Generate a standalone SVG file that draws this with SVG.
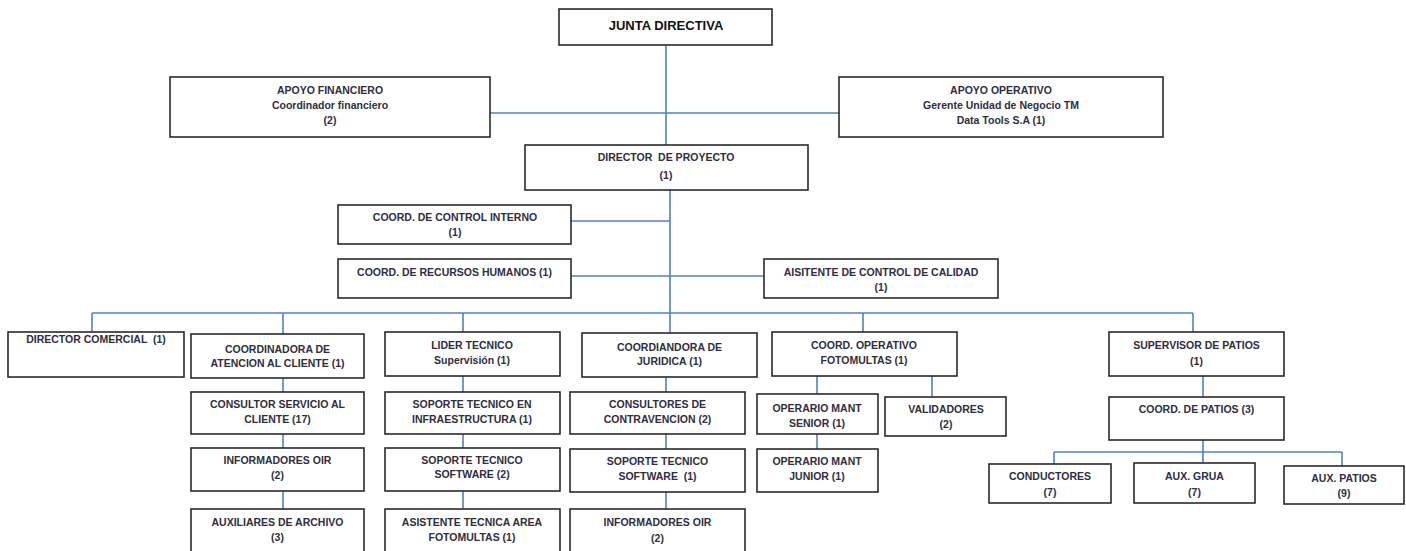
<svg xmlns="http://www.w3.org/2000/svg" width="1406" height="551" viewBox="0 0 1406 551">
<style>
.b{fill:#fff;stroke:#2a2a2a;stroke-width:1.6}
.t{font-family:"Liberation Sans",Arial,sans-serif;font-size:10.5px;font-weight:bold;fill:#2e2e3e;text-anchor:middle;white-space:pre}
.big{font-size:13px;fill:#111}
.c{fill:none;stroke:#4f81c7;stroke-width:1.6}
</style>
<rect width="1406" height="551" fill="#fff"/>
<g id="connectors">
<path class="c" d="M666,45V145M490,113H839M670,190V333M571,221H670M571,276H764M92,313H1193M92,313V332M283,313V334M463,313V332M863,313V332M1193,313V332M283,378V392M283,434V448M283,491V509M463,376V392M463,434V448M463,491V509M666,377V392M666,434V449M666,492V509M817,376V394M817,434V449M932,376V397M1203,376V397M1203,440V463M1054,452H1342M1054,452V464M1342,452V466"/>
</g>
<g id="junta"><rect class="b" x="559" y="9" width="213" height="36"/><text class="t big" x="666" y="29.5">JUNTA DIRECTIVA</text></g>
<g id="apoyo-fin"><rect class="b" x="170" y="77" width="320" height="60"/><text class="t" x="330" y="93.5">APOYO FINANCIERO</text><text class="t" x="330" y="108.8">Coordinador financiero</text><text class="t" x="330" y="124">(2)</text></g>
<g id="apoyo-op"><rect class="b" x="839" y="77" width="324" height="60"/><text class="t" x="1001" y="93.5">APOYO OPERATIVO</text><text class="t" x="1001" y="108.8">Gerente Unidad de Negocio TM</text><text class="t" x="1001" y="124">Data Tools S.A (1)</text></g>
<g id="director"><rect class="b" x="525" y="145" width="283" height="45"/><text class="t" x="666" y="161" xml:space="preserve">DIRECTOR  DE PROYECTO</text><text class="t" x="666" y="179">(1)</text></g>
<g id="control"><rect class="b" x="338" y="205" width="233" height="39"/><text class="t" x="455" y="221">COORD. DE CONTROL INTERNO</text><text class="t" x="455" y="236">(1)</text></g>
<g id="rrhh"><rect class="b" x="338" y="259" width="233" height="39"/><text class="t" x="454.5" y="275.5">COORD. DE RECURSOS HUMANOS (1)</text></g>
<g id="calidad"><rect class="b" x="764" y="259" width="234" height="39"/><text class="t" x="881" y="275.5">AISITENTE DE CONTROL DE CALIDAD</text><text class="t" x="881" y="290.5">(1)</text></g>
<g id="comercial"><rect class="b" x="8" y="332" width="176" height="45"/><text class="t" x="96" y="343" xml:space="preserve">DIRECTOR COMERCIAL  (1)</text></g>
<g id="atencion"><rect class="b" x="191" y="334" width="173" height="44"/><text class="t" x="277.5" y="352.5">COORDINADORA DE</text><text class="t" x="277.5" y="367">ATENCION AL CLIENTE (1)</text></g>
<g id="lider"><rect class="b" x="385" y="332" width="175" height="44"/><text class="t" x="472" y="349">LIDER TECNICO</text><text class="t" x="472" y="364">Supervisión (1)</text></g>
<g id="juridica"><rect class="b" x="582" y="333" width="175" height="44"/><text class="t" x="669.5" y="350.5">COORDIANDORA DE</text><text class="t" x="669.5" y="365">JURIDICA (1)</text></g>
<g id="operativo"><rect class="b" x="772" y="332" width="185" height="44"/><text class="t" x="864" y="349">COORD. OPERATIVO</text><text class="t" x="864" y="364">FOTOMULTAS (1)</text></g>
<g id="supervisor"><rect class="b" x="1109" y="332" width="175" height="44"/><text class="t" x="1196.5" y="349">SUPERVISOR DE PATIOS</text><text class="t" x="1196.5" y="364.5">(1)</text></g>
<g id="consultor"><rect class="b" x="191" y="392" width="173" height="42"/><text class="t" x="277.5" y="408">CONSULTOR SERVICIO AL</text><text class="t" x="277.5" y="423">CLIENTE (17)</text></g>
<g id="informadores1"><rect class="b" x="191" y="448" width="173" height="43"/><text class="t" x="277.5" y="464">INFORMADORES OIR</text><text class="t" x="277.5" y="479">(2)</text></g>
<g id="auxiliares"><rect class="b" x="191" y="509" width="173" height="52"/><text class="t" x="277.5" y="526">AUXILIARES DE ARCHIVO</text><text class="t" x="277.5" y="541">(3)</text></g>
<g id="soporte-infra"><rect class="b" x="385" y="392" width="175" height="42"/><text class="t" x="472" y="408">SOPORTE TECNICO EN</text><text class="t" x="472" y="423">INFRAESTRUCTURA (1)</text></g>
<g id="soporte-sw2"><rect class="b" x="385" y="448" width="175" height="43"/><text class="t" x="472" y="464">SOPORTE TECNICO</text><text class="t" x="472" y="478">SOFTWARE (2)</text></g>
<g id="asistente"><rect class="b" x="385" y="509" width="175" height="52"/><text class="t" x="472" y="526">ASISTENTE TECNICA AREA</text><text class="t" x="472" y="541">FOTOMULTAS (1)</text></g>
<g id="contravencion"><rect class="b" x="570" y="392" width="175" height="42"/><text class="t" x="657.5" y="408">CONSULTORES DE</text><text class="t" x="657.5" y="423">CONTRAVENCION (2)</text></g>
<g id="soporte-sw1"><rect class="b" x="570" y="449" width="175" height="43"/><text class="t" x="657.5" y="465">SOPORTE TECNICO</text><text class="t" x="657.5" y="480" xml:space="preserve">SOFTWARE  (1)</text></g>
<g id="informadores2"><rect class="b" x="570" y="509" width="175" height="52"/><text class="t" x="657.5" y="526">INFORMADORES OIR</text><text class="t" x="657.5" y="541.5">(2)</text></g>
<g id="op-senior"><rect class="b" x="757" y="394" width="121" height="40"/><text class="t" x="817" y="411.5">OPERARIO MANT</text><text class="t" x="817" y="427">SENIOR (1)</text></g>
<g id="op-junior"><rect class="b" x="757" y="449" width="121" height="43"/><text class="t" x="817" y="465">OPERARIO MANT</text><text class="t" x="817" y="480">JUNIOR (1)</text></g>
<g id="validadores"><rect class="b" x="885" y="397" width="121" height="39"/><text class="t" x="946" y="413">VALIDADORES</text><text class="t" x="946" y="428">(2)</text></g>
<g id="coord-patios"><rect class="b" x="1109" y="397" width="175" height="43"/><text class="t" x="1196.5" y="413">COORD. DE PATIOS (3)</text></g>
<g id="conductores"><rect class="b" x="989" y="464" width="122" height="39"/><text class="t" x="1050" y="480">CONDUCTORES</text><text class="t" x="1050" y="495.5">(7)</text></g>
<g id="aux-grua"><rect class="b" x="1134" y="463" width="121" height="40"/><text class="t" x="1194.5" y="480">AUX. GRUA</text><text class="t" x="1194.5" y="495.5">(7)</text></g>
<g id="aux-patios"><rect class="b" x="1284" y="466" width="120" height="38"/><text class="t" x="1344" y="481.5">AUX. PATIOS</text><text class="t" x="1344" y="496.5">(9)</text></g>
</svg>
